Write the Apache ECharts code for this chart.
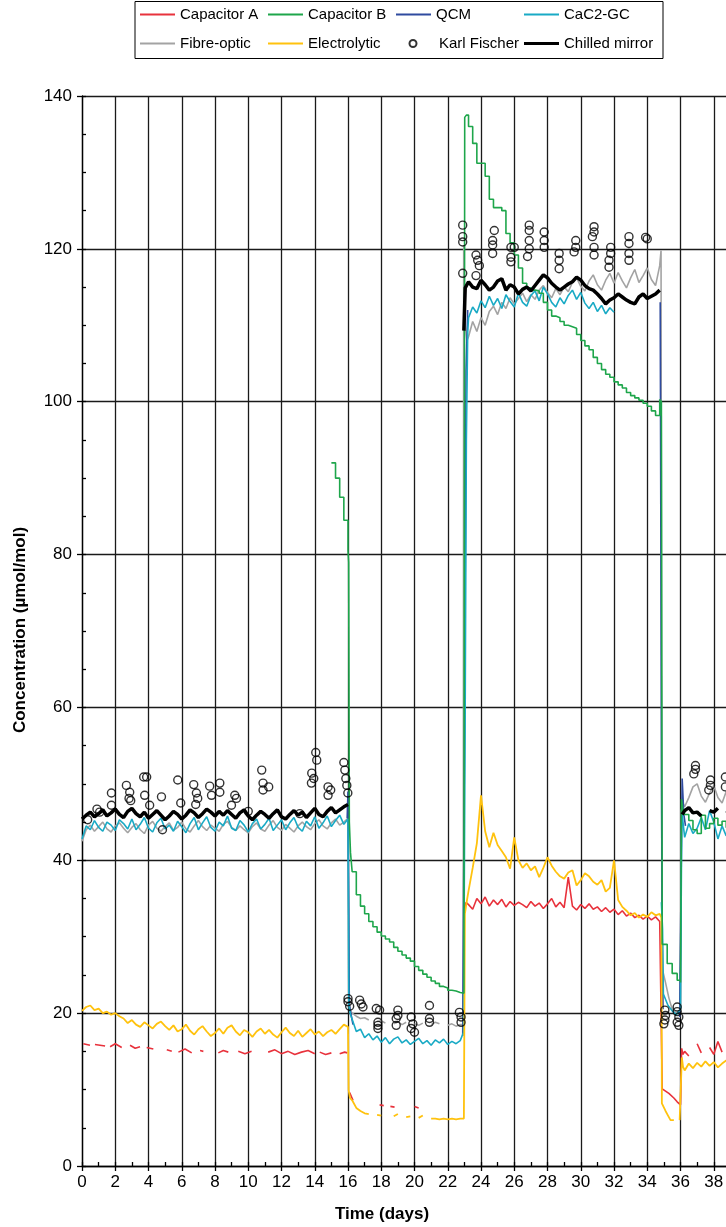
<!DOCTYPE html>
<html><head><meta charset="utf-8">
<script src="https://cdn.jsdelivr.net/npm/echarts@6/dist/echarts.min.js"></script>
<style>html,body{margin:0;padding:0;background:#fff}#c{width:726px;height:1227px}</style>
</head><body><div id="c"></div>
<script>
// ---- time grids (days) ----
const T1 = [0,0.25,0.5,0.75,1,1.25,1.5,1.75,2,2.25,2.5,2.75,3,3.25,3.5,3.75,4,4.25,4.5,4.75,5,5.25,5.5,5.75,6,6.25,6.5,6.75,7,7.25,7.5,7.75,8,8.25,8.5,8.75,9,9.25,9.5,9.75,10,10.25,10.5,10.75,11,11.25,11.5,11.75,12,12.25,12.5,12.75,13,13.25,13.5,13.75,14,14.25,14.5,14.75,15,15.25,15.5,15.75,16];
const T2 = [16.25,16.5,16.75,17,17.25,17.5,17.75,18,18.25,18.5,18.75,19,19.25,19.5,19.75,20,20.25,20.5,20.75,21,21.25,21.5,21.75,22,22.25,22.5,22.75];
const T3 = [23.25,23.5,23.75,24,24.25,24.5,24.75,25,25.25,25.5,25.75,26,26.25,26.5,26.75,27,27.25,27.5,27.75,28,28.25,28.5,28.75,29,29.25,29.5,29.75,30,30.25,30.5,30.75,31,31.25,31.5,31.75,32,32.25,32.5,32.75,33,33.25,33.5,33.75,34,34.25,34.5,34.75];
const T4 = [36.25,36.5,36.75,37,37.25,37.5,37.75,38,38.25,38.5,38.75,39,39.25,39.5,39.75,40];

// ---- CaC2-GC ----
const cyan1 = [42.8,44.5,44.0,45.2,44.3,43.8,45.0,44.6,43.9,45.3,44.8,44.1,45.4,44.0,44.7,45.6,44.2,43.7,44.9,45.5,44.1,44.6,43.8,45.1,44.4,43.6,44.8,45.6,44.0,44.9,45.7,44.3,43.8,45.0,44.5,45.8,44.2,43.9,45.2,44.6,43.7,44.8,45.4,44.1,44.7,45.5,43.9,44.6,45.3,44.0,44.9,45.6,44.3,43.8,45.1,44.5,45.7,44.2,44.9,45.8,44.4,45.2,45.9,44.7,45.4];
const cyan2 = [19.2,17.6,17.9,16.8,17.3,16.5,17.0,16.2,16.8,16.0,16.6,16.9,16.1,16.5,15.9,16.3,16.7,16.0,16.4,15.8,16.5,16.1,16.6,15.9,16.3,16.0,16.4];
const cyan3 = [111.0,112.4,111.6,113.2,112.3,113.8,112.6,113.5,112.2,114.0,113.1,112.4,114.2,113.0,112.5,113.9,114.5,113.2,115.0,114.1,113.0,112.4,113.6,112.8,113.9,114.6,113.4,114.3,112.9,112.2,113.0,111.8,112.6,111.5,112.3,111.7,null,null,null,null,null,null,null,null,null,null,null];
const cyan4 = [43.0,44.8,43.5,44.2,45.6,44.0,46.5,45.0,42.8,44.5,43.2,44.8,43.6,45.2,44.0,44.6];
const cyanA = [[16.05,21.0],[16.15,19.8]];
const cyanB = [[22.95,17.5],[23.05,60],[23.12,95],[23.2,109]];
const cyanC = [[34.85,34.5],[34.92,31.0],[34.97,22.5],[35.25,21.0],[35.5,20.3],[35.75,19.8],[36.0,20.5],[36.08,47.0],[36.15,45.0]];

// ---- Fibre-optic ----
const gray1 = [42.5,44.0,44.6,43.8,44.4,45.0,44.1,43.7,44.5,44.9,44.2,43.6,44.3,44.8,44.0,43.5,44.6,45.1,44.2,43.8,44.4,44.9,43.9,44.3,45.0,44.1,43.7,44.5,45.2,44.4,43.9,44.6,44.2,43.8,44.7,45.1,44.3,43.9,44.5,44.0,43.6,44.4,44.9,44.1,43.8,44.6,45.2,44.3,43.9,44.7,44.2,43.7,44.5,45.0,44.4,44.0,44.8,45.3,44.5,44.1,44.9,45.4,44.6,45.0,45.5];
const gray2 = [20.0,19.6,19.3,19.4,19.1,null,18.9,19.0,18.7,null,18.6,18.9,18.5,18.8,null,18.6,18.4,18.7,null,18.5,18.8,18.6,null,18.4,18.6,18.3,18.5];
const gray3 = [108.5,110.5,109.2,111.0,110.0,111.8,112.5,111.4,113.0,112.2,113.6,112.8,113.5,114.2,113.1,114.0,113.4,114.6,115.2,114.3,113.6,114.8,114.0,115.0,114.4,115.6,116.2,115.1,114.5,115.8,116.6,115.3,114.6,115.9,116.8,115.5,116.9,115.8,114.9,116.2,117.3,115.6,116.5,117.5,116.0,115.2,117.8];
const gray4 = [47.0,48.2,49.6,50.0,48.4,47.6,48.8,49.8,48.2,47.5,49.0,48.4,49.3,48.0,48.8,48.3];
const grayA = [[16.05,22.5],[16.15,20.3]];
const grayB = [[22.93,18.5],[22.96,120.5],[23.05,110.0],[23.15,108.0]];
const grayC = [[34.83,119.8],[34.88,26.0],[35.1,24.0],[35.3,22.0],[35.5,20.5],[35.75,20.0],[36.0,20.5],[36.05,46.5],[36.15,47.5]];

// ---- Chilled mirror ----
const black1 = [45.4,45.9,46.3,45.7,46.1,46.6,45.8,46.2,46.7,46.0,45.6,46.4,46.8,46.1,45.7,46.3,45.5,46.0,46.5,45.9,45.3,45.8,46.4,46.0,45.4,45.9,46.6,46.2,45.6,46.1,46.7,46.3,45.8,46.4,45.9,46.5,46.0,45.5,46.2,46.6,45.8,45.3,45.9,46.4,46.0,45.5,46.1,46.6,45.7,45.4,46.0,46.5,45.9,46.3,45.6,46.2,46.8,46.0,45.7,46.4,46.9,46.2,46.6,47.0,47.3];
const black3 = [115.7,115.0,114.8,115.9,115.3,114.6,115.0,115.8,116.1,114.6,115.3,115.0,114.1,114.7,115.0,114.5,115.2,115.9,116.6,116.2,115.5,115.0,114.6,115.0,115.4,115.7,116.3,115.9,115.2,114.8,114.6,114.1,113.5,112.8,113.3,113.6,114.1,113.7,113.3,113.0,112.8,113.7,114.1,113.5,113.8,114.1,114.6];
const black4 = [46.5,46.9,46.2,46.3,45.8,null,46.5,46.3,46.8,null,46.5,46.2,46.6,null,46.4,46.7];
const blackB = [[22.97,109.3],[23.05,114.9]];
const blackC = [[36.1,46.0]];

// ---- Capacitor B ----
const green0 = [[15.0,92.0],[15.25,90.0],[15.5,87.5],[15.75,84.5],[16.0,80.5],[16.04,79.0],[16.08,45.0],[16.15,41.0]];
const green2 = [38.5,35.5,34.0,33.0,32.0,31.3,30.6,30.1,29.7,29.3,28.6,28.1,27.6,27.2,26.8,26.1,25.6,25.1,24.7,24.2,23.9,23.5,23.3,23.0,22.9,22.7,22.6];
const green3 = [136.0,133.8,131.2,131.2,129.5,126.5,125.4,125.4,125.0,122.0,120.8,119.2,117.5,115.5,114.9,114.6,114.5,114.2,113.0,112.0,111.2,111.0,110.5,110.0,109.8,109.6,108.8,108.0,107.3,106.8,105.8,105.0,104.2,103.6,103.2,102.6,102.2,101.8,101.2,100.8,100.5,100.2,99.8,99.4,98.8,98.2,100.3];
const green4 = [46.0,45.2,44.0,43.5,45.9,44.2,44.8,45.5,44.6,45.1,44.3,45.0,44.7,45.3,44.5,44.9];
const greenB = [[22.97,22.6],[23.02,137.2],[23.12,137.5]];
const greenC = [[34.85,100.0],[34.9,29.0],[35.2,26.5],[35.5,25.2],[35.8,24.3],[36.0,24.0],[36.06,48.0],[36.15,46.5]];

// ---- Electrolytic ----
const yel1 = [20.3,20.8,21.0,20.4,20.6,20.0,20.2,19.8,20.0,19.6,19.3,18.7,19.1,18.5,18.2,18.8,18.4,18.0,18.6,18.9,18.3,17.8,18.4,17.6,17.9,18.5,17.7,17.2,17.9,18.3,17.6,17.0,17.4,18.0,17.3,18.1,18.4,17.6,17.1,17.8,17.5,16.9,17.6,18.0,17.3,17.8,17.2,16.8,17.5,18.1,17.4,17.0,17.7,16.9,17.4,17.9,17.2,17.6,17.0,17.5,17.8,17.3,17.9,18.5,18.2];
const yel2 = [8.6,7.6,7.2,6.9,6.8,null,6.7,6.6,null,null,6.5,6.8,null,6.4,6.5,null,6.3,6.6,null,6.2,6.2,6.1,6.2,6.1,6.2,6.1,6.2];
const yel3 = [36.0,39.0,42.2,48.5,43.8,41.7,43.6,42.0,41.2,40.4,38.9,43.0,40.0,39.0,39.6,38.7,39.2,37.8,39.0,40.4,39.3,38.5,37.9,37.6,38.4,38.7,36.7,37.4,38.3,37.9,37.2,36.8,37.4,35.9,36.4,40.0,34.8,33.9,33.4,32.8,33.1,32.5,32.9,32.6,33.2,32.8,33.0];
const yel4 = [12.5,13.4,12.8,13.5,13.0,13.7,13.1,13.6,12.9,13.4,13.8,13.2,13.6,13.0,13.5,13.3];
const yelA = [[16.04,9.9],[16.12,8.9]];
const yelB = [[22.97,6.2],[23.03,33.0],[23.12,34.3]];
const yelC = [[34.85,32.5],[34.88,8.2],[35.1,7.2],[35.25,6.6],[35.4,6.0],[35.6,6.0],[35.7,null],[35.95,6.0],[36.05,6.0],[36.08,14.2],[36.15,13.0]];

// ---- Capacitor A ----
const red1 = [[0.08,16.0],[0.48,15.8],[0.6,null],[0.78,15.9],[1.39,15.7],[1.5,null],[1.69,15.6],[2.0,16.0],[2.39,15.5],[2.6,null],[2.89,15.8],[3.2,15.4],[3.49,15.6],[3.7,null],[3.89,15.5],[4.29,15.3],[4.6,null],[5.1,15.2],[5.4,15.0],[5.6,null],[5.8,14.9],[6.2,15.3],[6.6,14.8],[6.8,null],[7.1,15.1],[7.3,15.0],[7.7,null],[8.2,14.8],[8.5,15.1],[8.8,14.9],[9.1,null],[9.4,15.0],[9.8,14.7],[10.2,15.0],[10.7,null],[11.2,14.9],[11.6,15.2],[12.0,14.7],[12.4,15.0],[12.8,14.6],[13.2,14.9],[13.6,15.1],[14.0,14.7],[14.15,null],[14.3,14.9],[14.65,14.6],[15.0,14.8],[15.25,null],[15.5,14.7],[15.8,14.9],[15.95,14.8],[16.03,null]];
const red2 = [[16.1,9.6],[16.3,8.6],[16.4,null],[17.9,8.0],[18.15,7.9],[18.3,null],[18.55,7.8],[18.8,7.7],[18.9,null],[20.0,7.8],[20.25,7.6],[20.4,null],[23.03,33.8],[23.1,34.5]];
const red3 = [34.2,33.6,35.0,34.3,35.2,34.0,34.8,34.2,34.9,33.9,34.6,34.1,34.5,34.2,33.8,34.6,34.0,34.4,33.7,34.3,35.0,33.9,34.5,33.8,37.8,34.0,33.5,34.2,33.7,34.3,33.6,33.9,33.3,33.8,33.2,33.6,32.9,33.4,32.7,33.1,32.5,32.8,32.3,32.7,32.2,32.6,32.0];
const red4 = [15.0,14.4,null,16.0,14.8,null,15.5,14.6,16.3,14.9,null,15.4,14.7,null,15.2,14.8];
const redC = [[34.85,31.8],[34.9,10.1],[35.3,9.5],[35.6,8.9],[35.8,8.4],[36.0,8.0],[36.07,15.4],[36.15,14.6]];

// ---- QCM (mostly hidden beneath CaC2-GC) ----
const qcm = [[15.95,45.5],[16.0,49.0],[16.08,21.0],[16.3,18.5],[16.5,null],[22.9,17.0],[23.02,60.0],[23.1,104.0],[23.2,112.0],[23.3,null],[34.78,113.0],[34.86,49.5],[34.9,30.0],[34.95,20.5],[35.3,null],[35.95,19.5],[36.1,50.7],[36.2,46.0],[36.3,44.5]];

// ---- Karl Fischer ----
const kf = [[0.34,45.3],[0.9,46.7],[1.06,46.3],[1.77,48.8],[1.77,47.2],[2.67,49.8],[2.87,48.9],[2.83,48.1],[2.93,47.8],[3.71,50.9],[3.89,50.9],[3.77,48.5],[4.07,47.2],[4.78,48.3],[4.84,44.0],[5.76,50.5],[5.94,47.5],[6.72,49.9],[6.88,48.8],[6.96,48.1],[6.84,47.3],[7.68,49.7],[7.79,48.5],[8.29,50.1],[8.29,48.9],[9.19,48.5],[9.29,48.1],[8.99,47.2],[10.0,46.4],[10.81,51.8],[10.89,50.1],[10.89,49.2],[11.23,49.6],[13.1,46.1],[13.8,50.1],[13.82,51.4],[13.94,50.7],[14.06,54.1],[14.12,53.1],[14.8,49.6],[14.8,48.5],[14.96,49.2],[15.75,52.8],[15.81,51.8],[15.87,50.7],[15.93,49.8],[15.99,48.8],
[16.0,21.9],[16.0,21.5],[16.1,20.9],[16.7,21.7],[16.8,21.2],[16.9,20.8],[17.7,20.6],[17.9,20.4],[17.8,18.8],[17.8,18.4],[17.8,18.0],[19.0,20.4],[19.0,19.7],[18.9,19.3],[18.9,18.4],[19.8,19.5],[19.9,18.6],[19.8,18.0],[20.0,17.5],[20.9,21.0],[20.9,19.3],[20.9,18.8],[22.7,20.1],[22.8,19.5],[22.8,18.8],
[22.9,123.1],[22.9,121.6],[22.9,120.9],[22.9,116.8],[23.7,119.2],[23.8,118.5],[23.9,117.8],[23.7,116.5],[24.8,122.4],[24.7,121.1],[24.7,120.5],[24.7,119.4],[25.8,120.2],[25.8,118.9],[25.8,118.3],[26.0,120.2],[26.9,123.1],[26.9,122.4],[26.9,121.1],[26.9,120.0],[26.8,119.0],[27.8,122.2],[27.8,121.1],[27.8,120.2],[28.7,119.4],[28.7,118.5],[28.7,117.4],[29.7,121.1],[29.7,120.2],[29.6,119.6],[30.8,122.9],[30.8,122.2],[30.7,121.6],[30.8,120.2],[30.8,119.2],[31.8,120.2],[31.8,119.4],[31.7,118.5],[31.7,117.6],[32.9,121.6],[32.9,120.7],[32.9,119.4],[32.9,118.5],[33.9,121.5],[34.0,121.3],
[35.06,20.4],[35.1,19.7],[35.06,19.1],[35.0,18.6],[35.8,20.8],[35.8,20.2],[35.9,19.5],[35.8,18.8],[35.9,18.4],
[36.9,52.4],[36.9,51.9],[36.8,51.3],[37.8,50.5],[37.8,49.8],[37.7,49.2],[38.7,50.9],[38.7,49.6]];

// ---- axis ticks / legend ----
const xTicks = {min:0, max:40, interval:2};
const yTicks = {min:0, max:140, interval:20};
const legendNames = [['Capacitor A','Capacitor B','QCM','CaC2-GC'],['Fibre-optic','Electrolytic','Karl Fischer','Chilled mirror']];

// ---- build ----
function seg(t, v){ return t.map((x,i)=>[x, v[i]==null?'-':v[i]]); }
function pairs(p){ return p.map(d=>[d[0], d[1]==null?'-':d[1]]); }
function gapAt(x){ return [[x,'-']]; }

const cyanData = [].concat(seg(T1,cyan1), pairs(cyanA), seg(T2,cyan2), pairs(cyanB), seg(T3,cyan3), pairs(cyanC), seg(T4,cyan4));
const grayData = [].concat(seg(T1,gray1), pairs(grayA), seg(T2,gray2), pairs(grayB), seg(T3,gray3), pairs(grayC), seg(T4,gray4));
const blackData = [].concat(seg(T1,black1), gapAt(19.5), pairs(blackB), seg(T3,black3), gapAt(35.5), pairs(blackC), seg(T4,black4));
const greenData = [].concat(pairs(green0), seg(T2,green2), pairs(greenB), seg(T3,green3), pairs(greenC), seg(T4,green4));
const yelData = [].concat(seg(T1,yel1), pairs(yelA), seg(T2,yel2), pairs(yelB), seg(T3,yel3), pairs(yelC), seg(T4,yel4));
const redData = [].concat(pairs(red1), pairs(red2), seg(T3,red3), pairs(redC), seg(T4,red4));
const qcmData = pairs(qcm);

const FONT = "'Liberation Sans', Arial, Helvetica, sans-serif";
const COLORS = {'Capacitor A':'#e8323c','Capacitor B':'#1ea64b','QCM':'#2f4b9f','CaC2-GC':'#19aac5',
  'Fibre-optic':'#a3a3a3','Electrolytic':'#ffc20e','Karl Fischer':'#000','Chilled mirror':'#000'};
function line(name, data, width, z, extra){
  const color = COLORS[name];
  return Object.assign({type:'line', name, data, symbol:'none', showSymbol:false, connectNulls:false, z,
    lineStyle:{color, width}, itemStyle:{color}, emphasis:{disabled:true}, xAxisIndex:0, yAxisIndex:0}, extra||{});
}
const series = [
  line('Fibre-optic', grayData, 1.6, 2),
  line('QCM', qcmData, 1.6, 3),
  line('CaC2-GC', cyanData, 1.6, 4),
  line('Capacitor A', redData, 1.6, 5),
  line('Electrolytic', yelData, 1.8, 6),
  line('Capacitor B', greenData, 1.6, 7, {step:'end'}),
  {type:'scatter', name:'Karl Fischer', data:kf, symbol:'circle', symbolSize:8, z:8,
   itemStyle:{color:'rgba(0,0,0,0)', borderColor:'#000', borderWidth:1.4}, emphasis:{disabled:true}},
  line('Chilled mirror', blackData, 3.5, 9)
];

const colsX = [140, 268, 396, 524];
const rowsY = [7, 36];
const legends = [];
legendNames.forEach((row, r) => row.forEach((nm, c) => {
  const isKF = nm === 'Karl Fischer';
  const base = {padding:0, itemGap:0, selectedMode:false,
    textStyle:{fontFamily:FONT, fontSize:15, color:'#000'}};
  if (isKF) {
    legends.push(Object.assign(base, {data:[nm], left:408.5, top:rowsY[r], itemWidth:42, itemHeight:7}));
  } else {
    legends.push(Object.assign(base, {data:[{name:nm, icon:'rect', itemStyle:{color:COLORS[nm]}}],
      left:colsX[c], top:rowsY[r], itemWidth:35, itemHeight: nm==='Chilled mirror' ? 3 : 2}));
  }
}));

const axisLineStyle = {color:'#000', width:1.3};
const option = {
  animation:false,
  backgroundColor:'#fff',
  grid:{left:82, top:96, width:665, height:1070, containLabel:false, outerBoundsMode:'none'},
  legend: legends,
  xAxis:[
    {type:'value', min:xTicks.min, max:xTicks.max, interval:xTicks.interval, position:'bottom',
     axisLine:{show:true, lineStyle:axisLineStyle}, axisTick:{show:true, inside:false, length:5, lineStyle:axisLineStyle},
     axisLabel:{show:true, margin:8, fontFamily:FONT, fontSize:17, color:'#000', showMaxLabel:true, showMinLabel:true},
     splitLine:{show:true, lineStyle:{color:'#1a1a1a', width:1.3}}},
    {type:'value', min:0, max:40, interval:1, position:'bottom',
     axisLine:{show:false}, axisTick:{show:true, inside:true, length:4, lineStyle:axisLineStyle},
     axisLabel:{show:false}, splitLine:{show:false}}
  ],
  yAxis:[
    {type:'value', min:yTicks.min, max:yTicks.max, interval:yTicks.interval, position:'left',
     axisLine:{show:true, lineStyle:axisLineStyle}, axisTick:{show:true, inside:false, length:5, lineStyle:axisLineStyle},
     axisLabel:{show:true, margin:10, fontFamily:FONT, fontSize:17, color:'#000'},
     splitLine:{show:true, lineStyle:{color:'#1a1a1a', width:1.3}}},
    {type:'value', min:0, max:140, interval:5, position:'left',
     axisLine:{show:false}, axisTick:{show:true, inside:true, length:4, lineStyle:axisLineStyle},
     axisLabel:{show:false}, splitLine:{show:false}}
  ],
  series,
  graphic:[
    {type:'rect', shape:{x:135, y:1.5, width:528, height:57}, style:{fill:'none', stroke:'#000', lineWidth:1}, z:100, silent:true},
    {type:'text', x:20, y:630, rotation:Math.PI/2, silent:true,
     style:{text:'Concentration (µmol/mol)', fontFamily:FONT, fontSize:17, fontWeight:'bold', fill:'#000', align:'center', verticalAlign:'middle'}},
    {type:'text', x:382, y:1214, silent:true,
     style:{text:'Time (days)', fontFamily:FONT, fontSize:17, fontWeight:'bold', fill:'#000', align:'center', verticalAlign:'middle'}}
  ]
};
const chart = echarts.init(document.getElementById('c'), null, {renderer:'canvas'});
chart.setOption(option);
</script></body></html>
